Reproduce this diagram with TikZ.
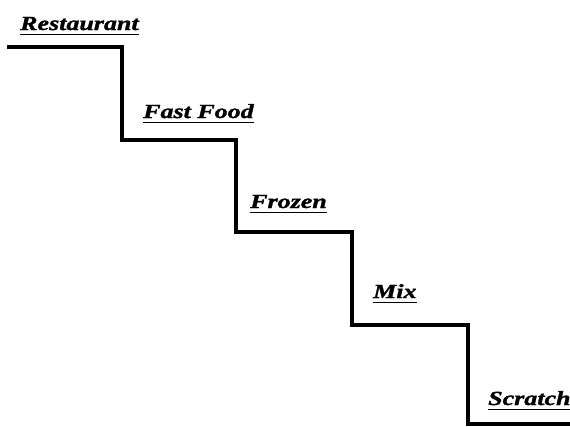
\documentclass[tikz,border=0pt]{standalone}
\usepackage{fontspec}
\setmainfont{Liberation Serif}[FakeStretch=1.3,FakeBold=1.5]
\begin{document}
\begin{tikzpicture}[x=1pt,y=-1pt,
  stair/.style={line width=4.8pt, line join=miter},
  lbl/.style={anchor=base west, inner sep=0pt, font=\fontsize{20}{23}\selectfont\bfseries\itshape},
  uline/.style={line width=1.8pt}]
\useasboundingbox (0,0) rectangle (570,426);
\begin{scope}
\clip (0,0) rectangle (570,426);
\draw[stair] (7,47) -- (122,47) -- (122,140) -- (236,140) -- (236,232) -- (352,232) -- (352,325) -- (468,325) -- (468,424) -- (575,424);
\end{scope}
\node[lbl] (r) at (20,30) {Restaurant};
\node[lbl] (f) at (143,118) {Fast Food};
\node[lbl] (z) at (250,208) {Frozen};
\node[lbl] (m) at (373,298) {Mix};
\node[lbl] (s) at (488,405) {Scratch};
\foreach \n in {r,f,z,m,s}{
  \draw[uline] ([yshift=-4.5pt]\n.base west) -- ([yshift=-4.5pt]\n.base east);
}
\end{tikzpicture}
\end{document}
